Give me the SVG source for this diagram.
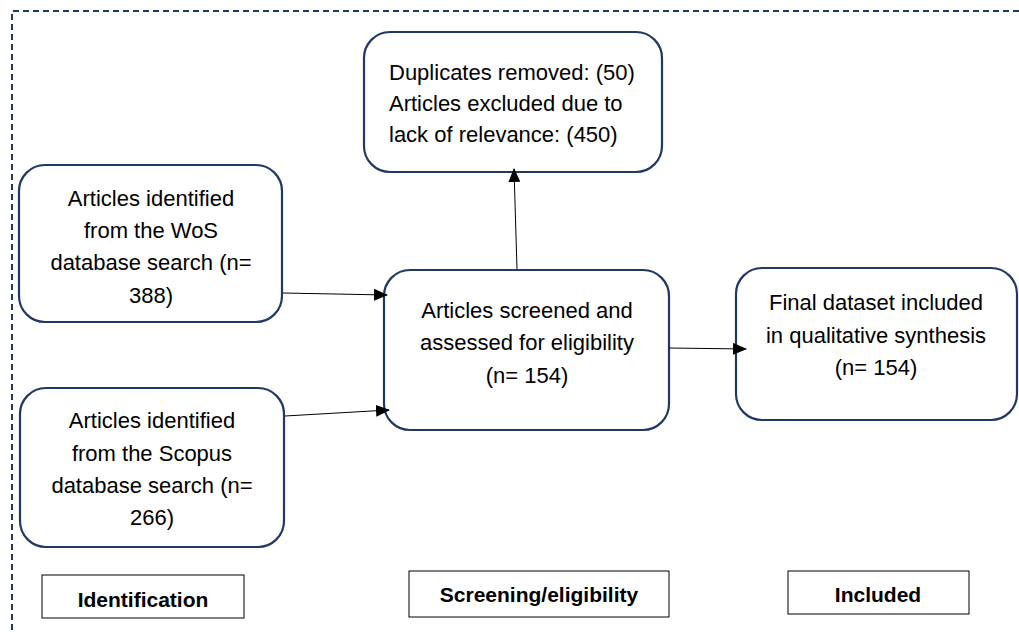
<svg xmlns="http://www.w3.org/2000/svg" width="1019" height="632" viewBox="0 0 1019 632">
<defs>
<style>
.node{fill:#fff;stroke:#1f3864;stroke-width:2.2}
.t{font-family:"Liberation Sans",Arial,sans-serif;font-size:22px;fill:#000}
.c{text-anchor:middle}
.lab{fill:#fff;stroke:#000;stroke-width:1}
.lt{font-family:"Liberation Sans",Arial,sans-serif;font-size:21px;font-weight:bold;fill:#000;text-anchor:middle}
.con{stroke:#000;stroke-width:1;fill:none;marker-end:url(#ah)}
</style>
<marker id="ah" viewBox="0 0 14 12" refX="13" refY="6" markerWidth="14" markerHeight="12" markerUnits="userSpaceOnUse" orient="auto">
<path d="M0,0 L14,6 L0,12 Z" fill="#000"/>
</marker>
</defs>
<rect width="1019" height="632" fill="#fff"/>
<path d="M12,640 L12,11 L1025,11" fill="none" stroke="#1f3864" stroke-width="2" stroke-dasharray="6,4"/>
<g id="n_excluded">
<rect class="node" x="364" y="32" width="298" height="140" rx="26"/>
<text class="t" x="389" y="80">Duplicates removed: (50)</text>
<text class="t" x="389" y="111">Articles excluded due to</text>
<text class="t" x="389" y="142">lack of relevance: (450)</text>
</g>
<g id="n_wos">
<rect class="node" x="19" y="165" width="263" height="157" rx="26"/>
<text class="t c" x="151" y="206">Articles identified</text>
<text class="t c" x="151" y="238">from the WoS</text>
<text class="t c" x="151" y="270">database search (n=</text>
<text class="t c" x="151" y="303">388)</text>
</g>
<g id="n_scopus">
<rect class="node" x="20" y="388" width="264" height="159" rx="26"/>
<text class="t c" x="152" y="428">Articles identified</text>
<text class="t c" x="152" y="461">from the Scopus</text>
<text class="t c" x="152" y="493">database search (n=</text>
<text class="t c" x="152" y="525">266)</text>
</g>
<g id="n_screened">
<rect class="node" x="384" y="270" width="285" height="160" rx="26"/>
<text class="t c" x="527" y="318">Articles screened and</text>
<text class="t c" x="527" y="350">assessed for eligibility</text>
<text class="t c" x="527" y="383">(n= 154)</text>
</g>
<g id="n_final">
<rect class="node" x="736" y="268" width="281" height="152" rx="26"/>
<text class="t c" x="876" y="310">Final dataset included</text>
<text class="t c" x="876" y="343">in qualitative synthesis</text>
<text class="t c" x="876" y="375">(n= 154)</text>
</g>
<g id="l_identification">
<rect class="lab" x="42" y="575" width="202" height="43"/>
<text class="lt" x="143" y="607">Identification</text>
</g>
<g id="l_screening">
<rect class="lab" x="409" y="571" width="260" height="46"/>
<text class="lt" x="539" y="602">Screening/eligibility</text>
</g>
<g id="l_included">
<rect class="lab" x="788" y="571" width="181" height="43"/>
<text class="lt" x="878" y="602">Included</text>
</g>
<g id="connectors">
<line class="con" x1="283" y1="293" x2="387" y2="295"/>
<line class="con" x1="285" y1="416" x2="389" y2="410"/>
<line class="con" x1="517" y1="269" x2="514" y2="169"/>
<line class="con" x1="669" y1="348" x2="746" y2="349"/>
</g>
</svg>
